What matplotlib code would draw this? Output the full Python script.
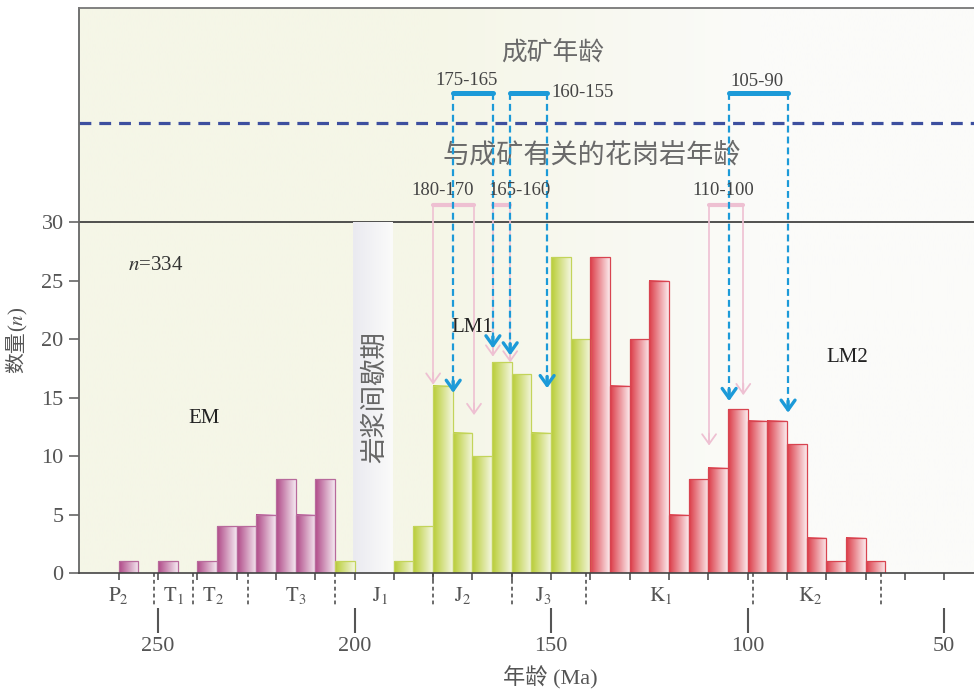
import numpy as np
import matplotlib
matplotlib.use('Agg')
import matplotlib.pyplot as plt
from matplotlib.colors import to_rgb

plt.rcParams['font.family'] = ['Liberation Serif', 'Noto Sans CJK SC']
plt.rcParams['mathtext.fontset'] = 'stix'

# histogram bins (older edge of each 5 Ma bin) and counts
purple_start = [260, 250, 240, 235, 230, 225, 220, 215, 210]
purple_count = [1, 1, 1, 4, 4, 5, 8, 5, 8]
green_start = [205, 190, 185, 180, 175, 170, 165, 160, 155, 150, 145]
green_count = [1, 1, 4, 16, 12, 10, 18, 17, 12, 27, 20]
red_start = [140, 135, 130, 125, 120, 115, 110, 105, 100, 95, 90, 85, 80, 75, 70]
red_count = [27, 16, 20, 25, 5, 8, 9, 14, 13, 13, 11, 3, 1, 3, 1]

# geological periods
period_labels = ['P_2', 'T_1', 'T_2', 'T_3', 'J_1', 'J_2', 'J_3', 'K_1', 'K_2']
period_centers = [260, 246, 236, 215, 193.5, 172.5, 152, 122, 84]
boundaries = [251, 241, 227, 205, 180, 160, 141, 98.6, 66]

# mineralization ages (blue) and related granite ages (pink)
ore_ranges = [(174.9, 164.8), (160.4, 151.0), (104.7, 89.7)]
ore_tips = [(15.4, 19.2), (18.6, 15.8), (14.7, 13.7)]
ore_labels = ['175-165', '160-155', '105-90']
granite_ranges = [(180.0, 169.6), (164.8, 160.4), (109.8, 101.1)]
granite_tips = [(16.1, 13.5), (18.5, 18.0), (10.9, 15.2)]
granite_labels = ['180-170', '165-160', '110-100']

XL = (270.1, 42.4)
YL = (0, 48.3)

fig = plt.figure(figsize=(9.74, 6.91), dpi=100)
ax = fig.add_axes([79/974, 118/691, 895/974, 565/691])

# background: pale yellow on the left fading to white
cols = np.linspace(0, 1, 400)
px = 79 + cols * 895
t = np.clip((px - 430) / 330, 0, 1)
c0 = np.array([245, 246, 231]) / 255
c1 = np.array([251, 251, 249]) / 255
bg = c0 * (1 - t[:, None]) + c1 * t[:, None]
ax.imshow(bg[None, :, :], extent=[XL[0], XL[1], YL[0], YL[1]], aspect='auto', zorder=0)

ax.axhline(30, color='#333333', lw=1.2, zorder=1)

# magmatic gap band
g = np.linspace(0, 1, 50)[:, None]
band = np.array([234, 234, 240]) / 255 * (1 - g) + np.array([251, 251, 250]) / 255 * g
ax.imshow(band[None], extent=[200.3, 190.3, 0, 30], aspect='auto', zorder=2)
ax.text(194.8, 15.0, '岩浆间歇期', rotation=90, ha='center', va='center',
        fontsize=19, color='#666666', zorder=3)


def gradient_bars(starts, counts, c_left, c_right, edge):
    bars = ax.bar(starts, counts, width=-5, align='edge', facecolor='none',
                  edgecolor=edge, linewidth=0.9, zorder=4)
    gg = np.linspace(0, 1, 50)[:, None]
    img = (np.array(to_rgb(c_left)) * (1 - gg) + np.array(to_rgb(c_right)) * gg)[None]
    for b in bars:
        x0, w, h = b.get_x(), b.get_width(), b.get_height()
        ax.imshow(img, extent=[x0, x0 + w, 0, h], aspect='auto', zorder=3,
                  interpolation='bilinear')


gradient_bars(purple_start, purple_count, '#b04a88', '#f4e8f0', '#b86a9c')
gradient_bars(green_start, green_count, '#b9cd35', '#f3f6df', '#c3d45a')
gradient_bars(red_start, red_count, '#dc3c48', '#fbeaec', '#d84450')

# dashed separator
ax.axhline(38.5, color='#3d4f9f', lw=2.3, dashes=(3.7, 2.5), zorder=5)


def bracket(rng, tips, color, top, lw_top, lw_leg, ls, head_lw):
    a, b = rng
    ax.plot([a, b], [top, top], color=color, lw=lw_top, solid_capstyle='round', zorder=6)
    for x, tip in zip((a, b), tips):
        ax.plot([x, x], [top, tip + 0.2], color=color, lw=lw_leg, ls=ls, zorder=6)
        ax.annotate('', xy=(x, tip), xytext=(x, tip + 1.0),
                    arrowprops=dict(arrowstyle='->,head_length=0.7,head_width=0.5',
                                    color=color, lw=head_lw, shrinkA=0, shrinkB=0),
                    zorder=7)


for rng, tips in zip(granite_ranges, granite_tips):
    bracket(rng, tips, '#eec0d2', 31.5, 3.0, 1.2, '-', 1.3)
for rng, tips in zip(ore_ranges, ore_tips):
    bracket(rng, tips, '#1c9ad8', 41.0, 3.6, 1.6, (0, (3.1, 1.8)), 2.4)

num_kw = dict(fontsize=13.5, color='#444444', zorder=8)
ax.text(171.6, 42.1, ore_labels[0], ha='center', va='center', **num_kw)
ax.text(150.0, 41.1, ore_labels[1], ha='left', va='center', **num_kw)
ax.text(97.6, 42.0, ore_labels[2], ha='center', va='center', **num_kw)
ax.text(177.5, 32.7, granite_labels[0], ha='center', va='center', **num_kw)
ax.text(157.9, 32.7, granite_labels[1], ha='center', va='center', **num_kw)
ax.text(106.2, 32.7, granite_labels[2], ha='center', va='center', **num_kw)

ax.text(149.5, 44.5, '成矿年龄', ha='center', va='center', fontsize=18.5, color='#6a6a6a')
ax.text(139.6, 35.7, '与成矿有关的花岗岩年龄', ha='center', va='center', fontsize=19.5,
        color='#6a6a6a')

ax.text(257.6, 26.3, '$n$=334', ha='left', va='center', fontsize=15, color='#333333')
ax.text(238.3, 13.2, 'EM', ha='center', va='center', fontsize=15, color='#222222', zorder=8)
ax.text(170.1, 21.0, 'LM1', ha='center', va='center', fontsize=15, color='#222222', zorder=8)
ax.text(74.7, 18.4, 'LM2', ha='center', va='center', fontsize=15, color='#222222', zorder=8)

# axes styling
ax.set_xlim(*XL)
ax.set_ylim(*YL)
ax.spines['right'].set_visible(False)
ax.spines['left'].set_color('#666666')
ax.spines['left'].set_linewidth(1.3)
ax.spines['top'].set_color('#777777')
ax.spines['top'].set_linewidth(1.3)
ax.spines['bottom'].set_color('#444444')
ax.spines['bottom'].set_linewidth(1.2)
for s in ax.spines.values():
    s.set_zorder(9)

ax.set_yticks(range(0, 31, 5))
ax.tick_params(axis='y', direction='out', length=7, width=1.2, color='#666666',
               labelsize=16, labelcolor='#555555', pad=4)
ax.set_xticks([])
ax.set_xticks(range(260, 49, -10), minor=True)
ax.tick_params(axis='x', which='minor', direction='out', length=5, width=1.1, color='#444444')

# period boundaries and names
vl = ax.vlines(boundaries, 0, -2.7, colors='#444444', linewidth=1.1, linestyles=(0, (2.5, 2)))
vl.set_clip_on(False)
for name, pos in zip(period_labels, period_centers):
    ax.text(pos, -1.9, r'$\mathrm{%s}$' % name, ha='center', va='center', fontsize=15,
            color='#555555', clip_on=False)

# lower age scale
sec = ax.secondary_xaxis(-60/565)
sec.set_xticks([250, 200, 150, 100, 50])
sec.spines['bottom'].set_visible(False)
sec.tick_params(direction='in', length=18, width=1.5, color='#555555',
                labelsize=16, labelcolor='#555555', pad=3)

fig.text(550/974, 1 - 678/691, '年龄 (Ma)', ha='center', va='center', fontsize=16, color='#555555')
fig.text(18/974, 1 - 352/691, '数量', rotation=90, ha='center', va='center',
         fontsize=15, color='#555555')
fig.text(18/974, 1 - 319/691, '($n$)', rotation=90, ha='center', va='center',
         fontsize=15, color='#555555')

fig.savefig('out.png', dpi=100)
